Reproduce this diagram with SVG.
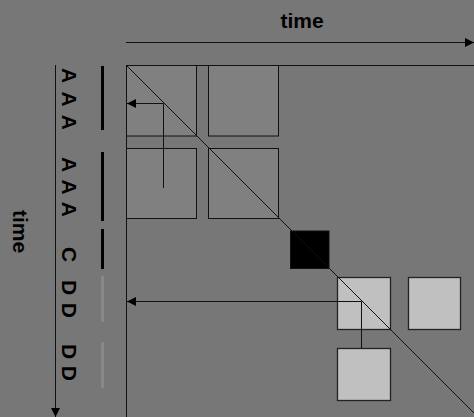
<svg xmlns="http://www.w3.org/2000/svg" width="474" height="417" viewBox="0 0 474 417">
<defs>
<style>
.lbl{font-family:"Liberation Sans",Arial,sans-serif;font-weight:bold;font-size:21px;fill:#000}
.ln{stroke:#111;stroke-width:1;fill:none}
.sq{fill:#808080;stroke:#111;stroke-width:1}
.lsq{fill:#c0c0c0;stroke:#222;stroke-width:1.3}
.bar{stroke:#000;stroke-width:3}
.lbar{stroke:#888;stroke-width:3}
</style>
<marker id="ah" viewBox="0 0 10 10" refX="10" refY="5" markerWidth="9" markerHeight="9" markerUnits="userSpaceOnUse" orient="auto">
<path d="M0,0 L10,5 L0,10 z" fill="#000"/>
</marker>
</defs>
<rect width="474" height="417" fill="#777777"/>
<g id="labels">
<text class="lbl" x="302" y="28" text-anchor="middle">time</text>
<text class="lbl" transform="translate(13,231.5) rotate(90)" text-anchor="middle">time</text>
<text class="lbl" transform="translate(62,99) rotate(90)" text-anchor="middle" textLength="62" lengthAdjust="spacing">A A A</text>
<text class="lbl" transform="translate(62,187) rotate(90)" text-anchor="middle" textLength="60" lengthAdjust="spacing">A A A</text>
<text class="lbl" transform="translate(62,254.5) rotate(90)" text-anchor="middle">C</text>
<text class="lbl" transform="translate(62,299) rotate(90)" text-anchor="middle" textLength="38" lengthAdjust="spacing">D D</text>
<text class="lbl" transform="translate(62,362.5) rotate(90)" text-anchor="middle" textLength="37" lengthAdjust="spacing">D D</text>
</g>
<g id="bars">
<line class="bar" x1="102.5" y1="66" x2="102.5" y2="130"/>
<line class="bar" x1="102.5" y1="152" x2="102.5" y2="221"/>
<line class="bar" x1="102.5" y1="229" x2="102.5" y2="269"/>
<line class="lbar" x1="102.5" y1="276" x2="102.5" y2="322"/>
<line class="lbar" x1="102.5" y1="342" x2="102.5" y2="388"/>
</g>
<g id="sq1"><rect class="sq" x="126.5" y="65.5" width="70" height="70.5"/></g>
<g id="sq2"><rect class="sq" x="208.5" y="65.5" width="70" height="70.5"/></g>
<g id="sq3"><rect class="sq" x="126.5" y="148.5" width="70" height="70"/></g>
<g id="sq4"><rect class="sq" x="208.5" y="148.5" width="70" height="70"/></g>
<g id="sqc"><rect x="290.5" y="231" width="38.5" height="37.5" fill="#000" stroke="#111"/></g>
<g id="sq5"><rect class="lsq" x="337.5" y="277.5" width="53" height="52"/></g>
<g id="sq6"><rect class="lsq" x="408.5" y="277.5" width="52" height="52"/></g>
<g id="sq7"><rect class="lsq" x="337.5" y="348.5" width="53" height="52"/></g>
<g id="connectors">
<line class="ln" x1="126" y1="42.5" x2="474" y2="42.5" marker-end="url(#ah)"/>
<line class="ln" x1="55.5" y1="65" x2="55.5" y2="417" marker-end="url(#ah)"/>
<line class="ln" x1="126" y1="65.5" x2="474" y2="65.5"/>
<line class="ln" x1="126.5" y1="65" x2="126.5" y2="417"/>
<line class="ln" x1="126" y1="65" x2="474" y2="413"/>
<polyline class="ln" points="163.5,188 163.5,103.5 127,103.5" marker-end="url(#ah)"/>
<polyline class="ln" points="361.5,348 361.5,301.5 127,301.5" marker-end="url(#ah)"/>
</g>
</svg>
